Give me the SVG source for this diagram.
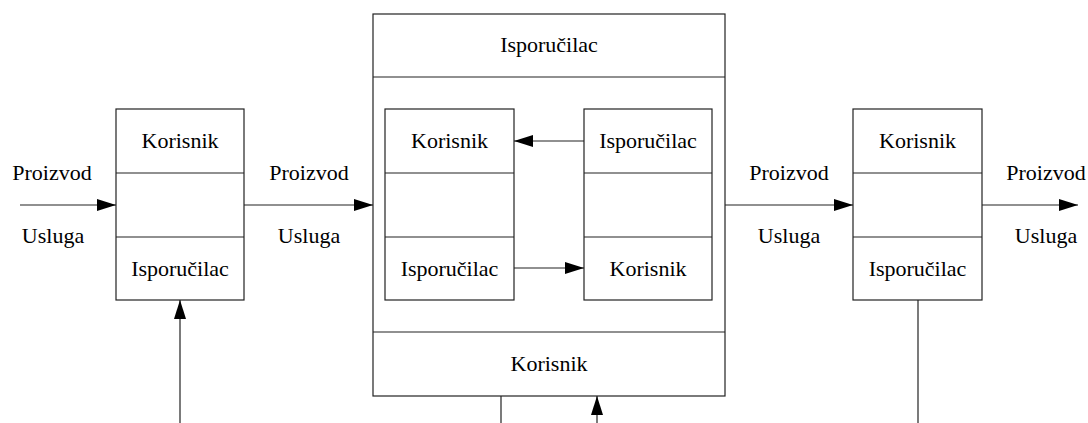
<svg xmlns="http://www.w3.org/2000/svg" width="1088" height="423" viewBox="0 0 1088 423">
  <style>
    .box { fill: #ffffff; stroke: #222; stroke-width: 1.2; }
    .div { stroke: #222; stroke-width: 1.2; }
    .wire { fill: none; stroke: #222; stroke-width: 1.2; }
  </style>
  <defs>
    <marker id="arrow" markerUnits="userSpaceOnUse" markerWidth="20" markerHeight="12" refX="19" refY="6" orient="auto">
      <path d="M0,0 L19,6 L0,12 Z" fill="#000"/>
    </marker>
  </defs>
  <rect width="1088" height="423" fill="#ffffff"/>

  <!-- left actor -->
  <g id="left-node">
    <rect class="box" x="116" y="109" width="128" height="191"/>
    <line class="div" x1="116" y1="173" x2="244" y2="173"/>
    <line class="div" x1="116" y1="237" x2="244" y2="237"/>
    <text x="180" y="148" font-family="Liberation Serif" font-size="22" text-anchor="middle">Korisnik</text>
    <text x="180" y="276" font-family="Liberation Serif" font-size="22" text-anchor="middle">Isporučilac</text>
  </g>

  <!-- central actor -->
  <g id="center-node">
    <rect class="box" x="373" y="14" width="352" height="382"/>
    <line class="div" x1="373" y1="77" x2="725" y2="77"/>
    <line class="div" x1="373" y1="332" x2="725" y2="332"/>
    <text x="549" y="52" font-family="Liberation Serif" font-size="22" text-anchor="middle">Isporučilac</text>
    <text x="549" y="371" font-family="Liberation Serif" font-size="22" text-anchor="middle">Korisnik</text>
  </g>

  <g id="inner-left-node">
    <rect class="box" x="385" y="109" width="129" height="191"/>
    <line class="div" x1="385" y1="173" x2="514" y2="173"/>
    <line class="div" x1="385" y1="237" x2="514" y2="237"/>
    <text x="449.5" y="148" font-family="Liberation Serif" font-size="22" text-anchor="middle">Korisnik</text>
    <text x="449.5" y="276" font-family="Liberation Serif" font-size="22" text-anchor="middle">Isporučilac</text>
  </g>

  <g id="inner-right-node">
    <rect class="box" x="584" y="109" width="128" height="191"/>
    <line class="div" x1="584" y1="173" x2="712" y2="173"/>
    <line class="div" x1="584" y1="237" x2="712" y2="237"/>
    <text x="648" y="148" font-family="Liberation Serif" font-size="22" text-anchor="middle">Isporučilac</text>
    <text x="648" y="276" font-family="Liberation Serif" font-size="22" text-anchor="middle">Korisnik</text>
  </g>

  <!-- right actor -->
  <g id="right-node">
    <rect class="box" x="853" y="109" width="129" height="191"/>
    <line class="div" x1="853" y1="173" x2="982" y2="173"/>
    <line class="div" x1="853" y1="237" x2="982" y2="237"/>
    <text x="917.5" y="148" font-family="Liberation Serif" font-size="22" text-anchor="middle">Korisnik</text>
    <text x="917.5" y="276" font-family="Liberation Serif" font-size="22" text-anchor="middle">Isporučilac</text>
  </g>

  <!-- connectors, drawn last so they sit above the box fills -->
  <g id="connectors">
    <line class="wire" x1="20" y1="205" x2="116" y2="205" marker-end="url(#arrow)"/>
    <line class="wire" x1="244" y1="205" x2="373" y2="205" marker-end="url(#arrow)"/>
    <line class="wire" x1="725" y1="205" x2="853" y2="205" marker-end="url(#arrow)"/>
    <line class="wire" x1="982" y1="205" x2="1078" y2="205" marker-end="url(#arrow)"/>
    <line class="wire" x1="180" y1="423" x2="180" y2="300" marker-end="url(#arrow)"/>
    <line class="wire" x1="501" y1="396" x2="501" y2="423"/>
    <line class="wire" x1="597" y1="423" x2="597" y2="396" marker-end="url(#arrow)"/>
    <line class="wire" x1="918" y1="300" x2="918" y2="423"/>
    <line class="wire" x1="584" y1="141" x2="514" y2="141" marker-end="url(#arrow)"/>
    <line class="wire" x1="514" y1="268" x2="584" y2="268" marker-end="url(#arrow)"/>
    <text x="52" y="180" font-family="Liberation Serif" font-size="22" text-anchor="middle">Proizvod</text>
    <text x="53" y="243" font-family="Liberation Serif" font-size="22" text-anchor="middle">Usluga</text>
    <text x="309" y="180" font-family="Liberation Serif" font-size="22" text-anchor="middle">Proizvod</text>
    <text x="309" y="243" font-family="Liberation Serif" font-size="22" text-anchor="middle">Usluga</text>
    <text x="789" y="180" font-family="Liberation Serif" font-size="22" text-anchor="middle">Proizvod</text>
    <text x="789" y="243" font-family="Liberation Serif" font-size="22" text-anchor="middle">Usluga</text>
    <text x="1046" y="180" font-family="Liberation Serif" font-size="22" text-anchor="middle">Proizvod</text>
    <text x="1046" y="243" font-family="Liberation Serif" font-size="22" text-anchor="middle">Usluga</text>
  </g>
</svg>
